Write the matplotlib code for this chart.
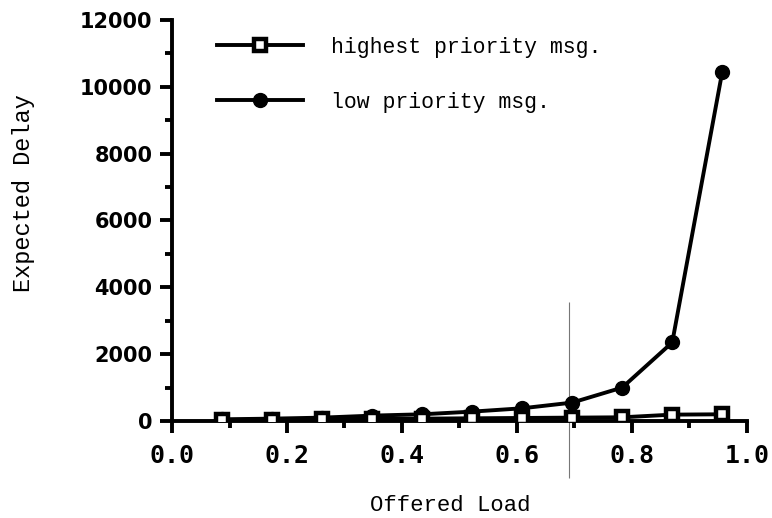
import matplotlib.pyplot as plt
from matplotlib.ticker import MultipleLocator

# offered load (x) and expected delay for the two message classes
load = [0.087, 0.174, 0.261, 0.348, 0.435, 0.522, 0.609, 0.696, 0.783, 0.870, 0.957]
high_delay = [30, 40, 50, 60, 70, 80, 90, 100, 110, 190, 200]
low_delay = [50, 70, 100, 160, 200, 280, 380, 550, 1000, 2350, 10450]

marker_line_x = 0.69
marker_line_span = (-1700, 3550)

mono = "Liberation Mono"

fig = plt.figure(figsize=(7.72, 5.18), dpi=100)
ax = fig.add_axes([0.2228, 0.1873, 0.7448, 0.7741])

ax.plot(load, high_delay, color="black", lw=2.8, marker="s", markersize=9,
        markerfacecolor="white", markeredgecolor="black", markeredgewidth=3.2,
        label="highest priority msg.", zorder=3)
ax.plot(load, low_delay, color="black", lw=2.8, marker="o", markersize=10,
        markerfacecolor="black", markeredgecolor="black",
        label="low priority msg.", zorder=2)

ax.vlines(marker_line_x, *marker_line_span, color="#777777", lw=0.8,
          clip_on=False, zorder=1)

ax.set_xlim(0, 1.0)
ax.set_ylim(0, 12000)
ax.xaxis.set_major_locator(MultipleLocator(0.2))
ax.xaxis.set_minor_locator(MultipleLocator(0.1))
ax.yaxis.set_major_locator(MultipleLocator(2000))
ax.yaxis.set_minor_locator(MultipleLocator(1000))

for side in ["top", "right"]:
    ax.spines[side].set_visible(False)
for side in ["left", "bottom"]:
    ax.spines[side].set_linewidth(2.8)

ax.tick_params(which="major", length=8.5, width=2.8, direction="out")
ax.tick_params(which="minor", length=5, width=2.8, direction="out")
ax.tick_params(axis="x", which="major", pad=8)
ax.tick_params(axis="y", which="major", pad=5.5)

ax.set_xticklabels([f"{v:.1f}" for v in ax.get_xticks()],
                   fontfamily="DejaVu Sans Mono", fontweight="bold", fontsize=18)
for lbl in ax.get_yticklabels():
    lbl.set_fontfamily("DejaVu Sans")
    lbl.set_fontweight("bold")
    lbl.set_fontsize(15)

fig.text(0.583, 0.025, "Offered Load", ha="center", va="center",
         fontfamily=mono, fontsize=16)
fig.text(0.031, 0.627, "Expected Delay", ha="center", va="center",
         rotation=90, fontfamily=mono, fontsize=17)

leg = ax.legend(loc="upper left", bbox_to_anchor=(0.044, 1.007), frameon=False,
                handlelength=4.0, handletextpad=1.3, labelspacing=1.6,
                prop={"family": mono, "size": 15.5})

fig.savefig("out.png", dpi=100)
